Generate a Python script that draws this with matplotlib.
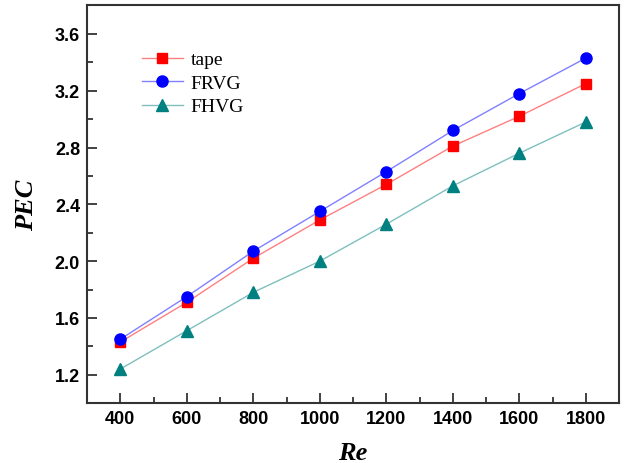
import matplotlib
matplotlib.use("Agg")
import matplotlib.pyplot as plt
from matplotlib.ticker import MultipleLocator, FormatStrFormatter

# data
re_vals = [400, 600, 800, 1000, 1200, 1400, 1600, 1800]
tape = [1.43, 1.71, 2.02, 2.29, 2.54, 2.81, 3.02, 3.25]
frvg = [1.45, 1.75, 2.07, 2.35, 2.63, 2.92, 3.18, 3.43]
fhvg = [1.24, 1.51, 1.78, 2.00, 2.26, 2.53, 2.76, 2.98]

fig = plt.figure(figsize=(6.26, 4.64), dpi=100)
ax = fig.add_axes([0.139, 0.129, 0.850, 0.857])

# light lines with solid markers (Origin style)
ax.plot(re_vals, tape, color='#ff8080', lw=1, marker='s', ms=7,
        mfc='red', mec='red', label='tape')
ax.plot(re_vals, frvg, color='#8080ff', lw=1, marker='o', ms=8,
        mfc='blue', mec='blue', label='FRVG')
ax.plot(re_vals, fhvg, color='#7fbfbf', lw=1, marker='^', ms=8,
        mfc='#008080', mec='#008080', label='FHVG')

ax.set_xlim(300, 1900)
ax.set_ylim(1.0, 3.8)
ax.xaxis.set_major_locator(MultipleLocator(200))
ax.xaxis.set_minor_locator(MultipleLocator(100))
ax.set_yticks([1.2, 1.6, 2.0, 2.4, 2.8, 3.2, 3.6])
ax.yaxis.set_minor_locator(MultipleLocator(0.2))
ax.yaxis.set_major_formatter(FormatStrFormatter('%.1f'))

ax.tick_params(which='major', direction='in', length=7, width=1.2, colors='#222222')
ax.tick_params(which='minor', direction='in', length=4, width=1.2, colors='#222222')
ax.tick_params(labelcolor='black', pad=5)
for lab in ax.get_xticklabels() + ax.get_yticklabels():
    lab.set_fontfamily('Liberation Sans')
    lab.set_fontweight('bold')
    lab.set_fontsize(13)
for sp in ax.spines.values():
    sp.set_linewidth(1.5)
    sp.set_color('#333333')

ax.set_xlabel('Re', fontfamily='Liberation Serif', fontweight='bold',
              fontstyle='italic', fontsize=19, labelpad=10)
ax.set_ylabel('PEC', fontfamily='Liberation Serif', fontweight='bold',
              fontstyle='italic', fontsize=19, labelpad=12)

ax.legend(loc='upper left', bbox_to_anchor=(0.07, 0.93), frameon=False,
          prop={'family': 'Liberation Serif', 'size': 14},
          handlelength=2.1, handletextpad=0.4, labelspacing=0.3)

fig.savefig('out.png', dpi=100)
